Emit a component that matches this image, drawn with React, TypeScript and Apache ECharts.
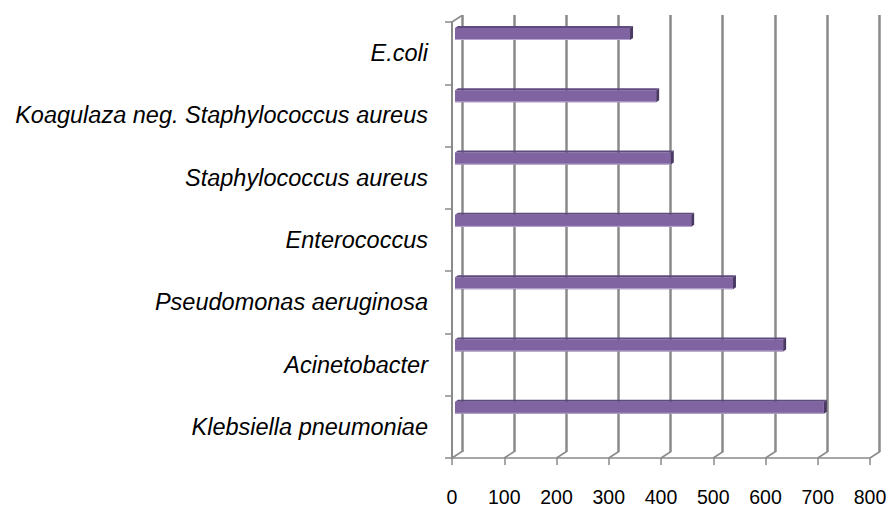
import React, { useEffect, useRef } from "react";
import * as echarts from "echarts";

const categories = [
  "Klebsiella pneumoniae",
  "Acinetobacter",
  "Pseudomonas aeruginosa",
  "Enterococcus",
  "Staphylococcus aureus",
  "Koagulaza neg. Staphylococcus aureus",
  "E.coli",
];
const values = [706, 628, 532, 452, 413, 385, 335];
const xTicks = [0, 100, 200, 300, 400, 500, 600, 700, 800];

const DX = 10;
const DY = -6.5;
const GRID = "#8a8a8a";

export default function App() {
  const ref = useRef<HTMLDivElement>(null);
  useEffect(() => {
    document.body.style.margin = "0";
    const chart = echarts.init(ref.current!, null, { renderer: "svg" });
    const option: any = {
      animation: false,
      backgroundColor: "#ffffff",
      grid: [
        { left: 452, top: 22, width: 418, height: 436, outerBoundsMode: "none" },
        { left: 462, top: 15, width: 417, height: 437, outerBoundsMode: "none" },
      ],
      xAxis: [
        {
          gridIndex: 0,
          type: "value",
          min: 0,
          max: 800,
          interval: 100,
          axisLine: { show: true, lineStyle: { color: GRID, width: 1.5 } },
          axisTick: { show: true, length: 7, lineStyle: { color: GRID, width: 1.5 } },
          axisLabel: { fontSize: 19.5, color: "#000", margin: 29, fontFamily: "Liberation Sans" },
          splitLine: { show: false },
        },
        {
          gridIndex: 1,
          type: "value",
          min: 0,
          max: 800,
          interval: 100,
          axisLine: { show: false },
          axisTick: { show: false },
          axisLabel: { show: false },
          splitLine: { show: true, lineStyle: { color: GRID, width: 2.5 } },
        },
      ],
      yAxis: [
        {
          gridIndex: 0,
          type: "category",
          data: categories,
          axisLine: { show: true, lineStyle: { color: GRID, width: 2 } },
          axisTick: { show: true, length: 7, lineStyle: { color: GRID, width: 1.5 } },
          axisLabel: {
            fontSize: 23.5,
            fontStyle: "italic",
            color: "#000",
            margin: 24,
            fontFamily: "Liberation Sans",
          },
          splitLine: { show: false },
        },
        { gridIndex: 1, type: "category", data: categories, show: false },
      ],
      series: [
        {
          type: "custom",
          xAxisIndex: 0,
          yAxisIndex: 0,
          z: 1,
          silent: true,
          data: xTicks.map((t) => [t, 0]).concat([[0, categories.length - 1]]),
          renderItem: (params: any, api: any) => {
            const t = api.value(0);
            const i = api.value(1);
            const c = api.coord([t, i]);
            const band = api.size([0, 1])[1];
            const y = i === 0 ? c[1] + band / 2 : c[1] - band / 2;
            return {
              type: "line",
              shape: { x1: c[0], y1: y, x2: c[0] + DX, y2: y + DY },
              style: { stroke: GRID, lineWidth: 1.5 },
            };
          },
        },
        {
          type: "custom",
          xAxisIndex: 0,
          yAxisIndex: 0,
          z: 5,
          data: values.map((v, i) => [v, i]),
          renderItem: (params: any, api: any) => {
            const v = api.value(0);
            const i = api.value(1);
            const c0 = api.coord([0, i]);
            const c1 = api.coord([v, i]);
            const band = api.size([0, 1])[1];
            const top = c0[1] - band / 2 + 4;
            const x0 = c0[0] + 3;
            const x1 = c1[0] + 3;
            const d = 3;
            const dy = 2;
            const h = 12;
            return {
              type: "group",
              children: [
                {
                  type: "rect",
                  shape: { x: x0, y: top + dy, width: x1 - x0, height: h },
                  style: { fill: "#8064A2" },
                },
                {
                  type: "line",
                  shape: { x1: x0, y1: top + dy + h - 0.5, x2: x1, y2: top + dy + h - 0.5 },
                  style: { stroke: "#b5a5cc", lineWidth: 1 },
                },
                {
                  type: "polygon",
                  shape: {
                    points: [
                      [x0, top + dy],
                      [x0 + d, top],
                      [x1 + d, top],
                      [x1, top + dy],
                    ],
                  },
                  style: { fill: "#5f4a80" },
                },
                {
                  type: "polygon",
                  shape: {
                    points: [
                      [x1, top + dy],
                      [x1 + d, top],
                      [x1 + d, top + h],
                      [x1, top + dy + h],
                    ],
                  },
                  style: { fill: "#4a3a63" },
                },
              ],
            };
          },
        },
      ],
    };
    chart.setOption(option);
    return () => chart.dispose();
  }, []);
  return <div ref={ref} style={{ width: 892, height: 510 }} />;
}
